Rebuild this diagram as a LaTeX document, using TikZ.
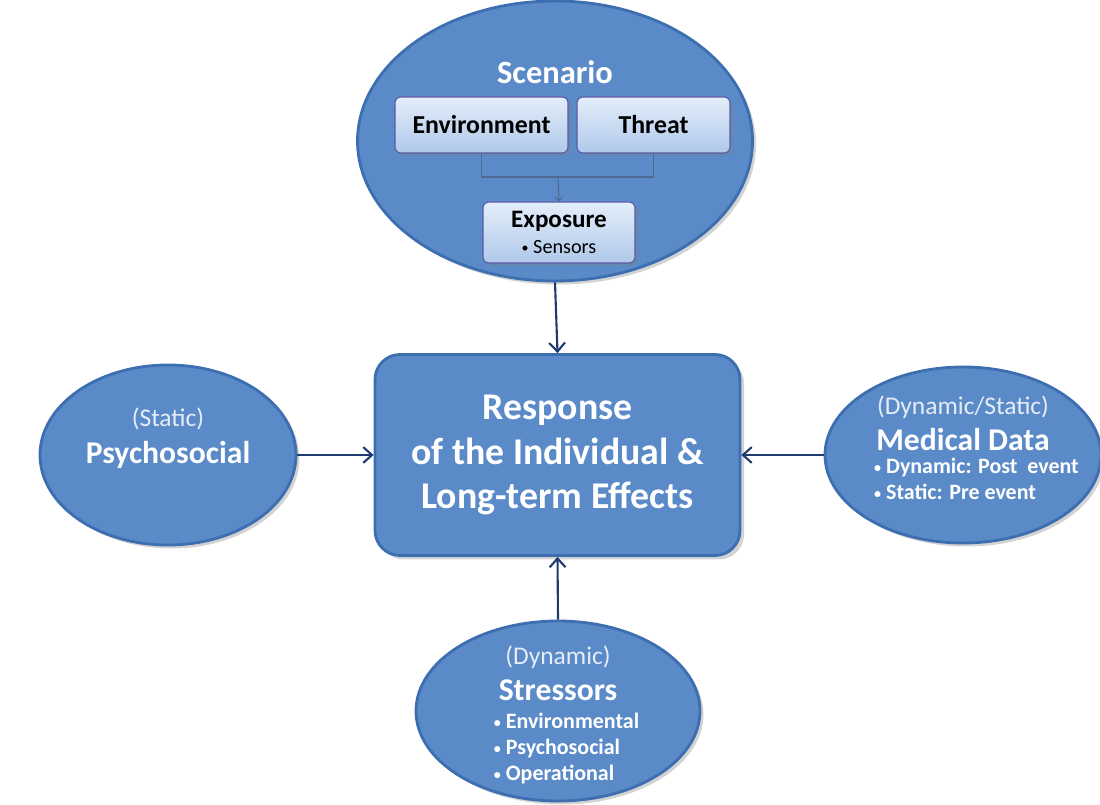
\documentclass[tikz,border=0pt]{standalone}
\usepackage{fontspec}
\setmainfont{Carlito}
\usetikzlibrary{shapes.geometric,shadows,arrows.meta}

\definecolor{blobfill}{HTML}{5A8AC8}
\definecolor{blobedge}{HTML}{3C6EB0}
\definecolor{boxtop}{HTML}{E4EEFA}
\definecolor{boxbottom}{HTML}{AFC8EA}
\definecolor{navy}{HTML}{1F3A6E}
\definecolor{joinline}{HTML}{4F6A90}

\newcommand{\dotitem}{{\fontsize{8}{8}\selectfont\raisebox{0.2ex}{•}}\ }

\tikzset{
  blob/.style={ellipse, fill=blobfill, draw=blobedge, line width=1.6pt,
    drop shadow={opacity=0.35, shadow xshift=0.07, shadow yshift=-0.07}},
  core/.style={rectangle, rounded corners=0.5cm, fill=blobfill, draw=blobedge,
    line width=1.6pt, minimum width=7.3cm, minimum height=4.02cm,
    drop shadow={opacity=0.35, shadow xshift=0.08, shadow yshift=-0.08}},
  subbox/.style={rectangle, rounded corners=0.12cm, top color=boxtop,
    bottom color=boxbottom, draw=gray!70!blue, line width=0.6pt,
    minimum height=1.12cm,
    drop shadow={opacity=0.45, shadow xshift=0.05, shadow yshift=-0.05}},
  kind/.style={text=white!85!blobfill, font=\fontsize{14.5}{16}\selectfont},
  heading/.style={text=white, font=\bfseries\fontsize{18}{20}\selectfont},
  bullets/.style={text=white, align=left, font=\bfseries\fontsize{12.5}{14.8}\selectfont},
  feed/.style={navy, line width=1.2pt, -{Straight Barb[length=5pt,width=9pt]}}
}

\begin{document}
\begin{tikzpicture}
\useasboundingbox (0,0) rectangle (22,16.08);

% Scenario
\node[blob, minimum width=7.9cm, minimum height=5.6cm] (scen) at (11.1,13.26) {};
\node[heading, font=\bfseries\fontsize{18.5}{20}\selectfont] (scenT) at (11.1,14.64) {Scenario};
\node[subbox, minimum width=3.46cm, font=\bfseries\fontsize{14.7}{16}\selectfont] (env) at (9.63,13.58) {Environment};
\node[subbox, minimum width=3.06cm, font=\bfseries\fontsize{14.7}{16}\selectfont] (threat) at (13.07,13.58) {Threat};
\node[subbox, minimum width=3.04cm, minimum height=1.22cm, align=center] (expo) at (11.18,11.43)
  {{\bfseries\fontsize{14.3}{15}\selectfont Exposure}\\[3pt]{\fontsize{11.5}{13}\selectfont\dotitem Sensors}};
\coordinate (join) at (11.16,12.54);
\draw[joinline, line width=0.6pt] (env.south) |- (join) -| (threat.south);
\draw[joinline, line width=0.6pt, -{Straight Barb[length=2pt,width=4pt]}] (join) -- (expo.north);

% Response
\node[core, text=white, align=center, font=\bfseries\fontsize{21.5}{25.5}\selectfont] (resp) at (11.15,6.98)
  {Response\\of the Individual \&\\Long-term Effects};

% Psychosocial
\node[blob, minimum width=5.12cm, minimum height=3.6cm] (psych) at (3.36,6.98) {};
\node[kind] (psychK) at (3.36,7.7) {(Static)};
\node[heading] (psychT) at (3.36,6.98) {Psychosocial};

% Medical Data
\node[blob, minimum width=5.52cm, minimum height=3.52cm] (med) at (19.26,6.98) {};
\node[kind] (medK) at (19.26,7.94) {(Dynamic/Static)};
\node[heading] (medT) at (19.26,7.28) {Medical Data};
\node[bullets] (medB) at (19.53,6.5) {\dotitem Dynamic: Post\ \ event\\\dotitem Static: Pre event};

% Stressors
\node[blob, minimum width=5.68cm, minimum height=3.6cm] (stress) at (11.16,1.86) {};
\node[kind] (stressK) at (11.16,2.94) {(Dynamic)};
\node[heading] (stressT) at (11.16,2.28) {Stressors};
\node[bullets] (stressB) at (11.33,1.1) {\dotitem Environmental\\\dotitem Psychosocial\\\dotitem Operational};

% Connectors
\draw[feed] (scen.south) -- (resp.north);
\draw[feed] (psych.east) -- (resp.west);
\draw[feed] (med.west) -- (resp.east);
\draw[feed] (stress.north) -- (resp.south);

\end{tikzpicture}
\end{document}
